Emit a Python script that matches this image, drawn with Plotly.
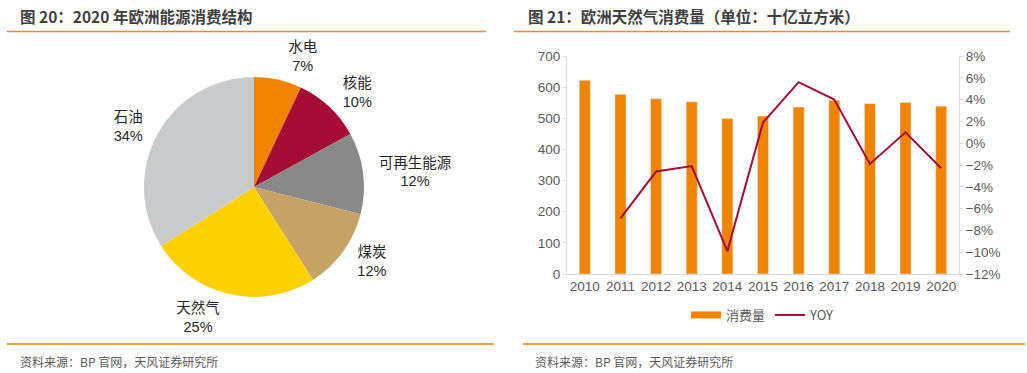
import plotly.graph_objects as go

# Pie data
energy_labels = ["水电", "核能", "可再生能源", "煤炭", "天然气", "石油"]
energy_share = [7, 10, 12, 12, 25, 34]
energy_colors = ["#F08300", "#A50D34", "#898989", "#C6A265", "#FDD000", "#C9CACC"]

# Bar/line data
years = ["2010", "2011", "2012", "2013", "2014", "2015", "2016", "2017", "2018", "2019", "2020"]
consumption = [622, 577, 563, 553, 499, 507, 536, 558, 547, 551, 539]
yoy_years = years[1:]
yoy = [-0.069, -0.026, -0.021, -0.099, 0.019, 0.056, 0.040, -0.019, 0.010, -0.023]

FONT = "Liberation Sans, Arial, Noto Sans CJK SC, sans-serif"
CJK = "Noto Sans CJK SC, sans-serif"
W, H = 1027, 373
BAR_COLOR = "#F08300"
LINE_COLOR = "#A50D34"

fig = go.Figure()

# visible pie (no text)
fig.add_trace(go.Pie(
    labels=energy_labels, values=energy_share,
    marker=dict(colors=energy_colors, line=dict(width=0)),
    sort=False, direction="clockwise", rotation=0,
    textinfo="none", automargin=False,
    domain=dict(x=[144 / W, 364 / W], y=[1 - 297 / H, 1 - 77 / H]),
    showlegend=False, hoverinfo="label+percent",
))
# transparent, slightly larger pie carrying the outside labels
fig.add_trace(go.Pie(
    labels=energy_labels, values=energy_share,
    marker=dict(colors=["rgba(0,0,0,0)"] * len(energy_labels), line=dict(width=0)),
    sort=False, direction="clockwise", rotation=0,
    textposition="outside", automargin=False,
    texttemplate="%{label}<br>%{percent:.0%}",
    textfont=dict(family=FONT, size=14.5, color="#262626"),
    outsidetextfont=dict(family=FONT, size=14.5, color="#262626"),
    domain=dict(x=[137 / W, 371 / W], y=[1 - 304 / H, 1 - 70 / H]),
    showlegend=False, hoverinfo="skip",
))

fig.add_trace(go.Bar(
    x=years, y=consumption, name="消费量",
    marker=dict(color=BAR_COLOR), width=0.31,
    xaxis="x", yaxis="y", showlegend=False,
))
# legend-only entry drawn as a thick flat swatch like the reference
fig.add_trace(go.Scatter(
    x=[None], y=[None], name="消费量", mode="lines",
    line=dict(color=BAR_COLOR, width=7),
    xaxis="x", yaxis="y", hoverinfo="skip",
))
fig.add_trace(go.Scatter(
    x=yoy_years, y=yoy, name="YOY", mode="lines",
    line=dict(color=LINE_COLOR, width=2),
    xaxis="x", yaxis="y2",
))

axis_font = dict(family=FONT, size=13.5, color="#595959")
fig.update_layout(
    width=W, height=H,
    margin=dict(l=0, r=0, t=0, b=0, autoexpand=False),
    paper_bgcolor="white", plot_bgcolor="white",
    xaxis=dict(domain=[567 / W, 959 / W], type="category", automargin=False,
               showline=True, linecolor="#D9D9D9", linewidth=1,
               ticks="", tickfont=axis_font, showgrid=False, anchor="y"),
    yaxis=dict(domain=[1 - 274 / H, 1 - 56 / H], range=[0, 700], dtick=100, automargin=False,
               showline=True, linecolor="#D9D9D9", linewidth=1,
               ticks="outside", ticklen=3, tickcolor="#D9D9D9",
               tickfont=axis_font, showgrid=False, zeroline=False),
    yaxis2=dict(overlaying="y", side="right", anchor="x", range=[-0.12, 0.08], dtick=0.02,
                automargin=False,
                tickformat=".0%", showline=True, linecolor="#D9D9D9", linewidth=1,
                ticks="outside", ticklen=3, tickcolor="#D9D9D9",
                tickfont=axis_font, showgrid=False, zeroline=False),
    legend=dict(orientation="h", x=(567 + 959) / 2 / W, xanchor="center",
                y=1 - 315 / H, yanchor="middle",
                font=dict(family=CJK, size=13, color="#595959"),
                itemwidth=30, bgcolor="rgba(0,0,0,0)"),
    bargap=0.69,
)

title_font = dict(family=CJK, size=15.5, color="#3F3F3F")
src_font = dict(family=CJK, size=12, color="#595959")
fig.add_annotation(text="<b>图 20：2020 年欧洲能源消费结构</b>", x=18 / W, y=1 - 16 / H,
                   xref="paper", yref="paper", xanchor="left", yanchor="middle",
                   showarrow=False, font=title_font)
fig.add_annotation(text="<b>图 21：欧洲天然气消费量（单位：十亿立方米）</b>", x=526 / W, y=1 - 16 / H,
                   xref="paper", yref="paper", xanchor="left", yanchor="middle",
                   showarrow=False, font=title_font)
fig.add_annotation(text="资料来源：BP 官网，天风证券研究所", x=18 / W, y=1 - 361 / H,
                   xref="paper", yref="paper", xanchor="left", yanchor="middle",
                   showarrow=False, font=src_font)
fig.add_annotation(text="资料来源：BP 官网，天风证券研究所", x=533 / W, y=1 - 361 / H,
                   xref="paper", yref="paper", xanchor="left", yanchor="middle",
                   showarrow=False, font=src_font)

for x0, x1, y, c in [(7, 486, 31.5, "#E38B3F"), (514, 1010, 31.5, "#E38B3F"),
                     (7, 494, 344, "#F08300"), (523, 1025, 344, "#F08300")]:
    fig.add_shape(type="line", xref="paper", yref="paper",
                  x0=x0 / W, x1=x1 / W, y0=1 - y / H, y1=1 - y / H,
                  line=dict(color=c, width=1.3))

fig.write_html("out.html", config={"displayModeBar": False},
               post_script="document.body.style.margin='0px';document.body.style.overflow='hidden';")
